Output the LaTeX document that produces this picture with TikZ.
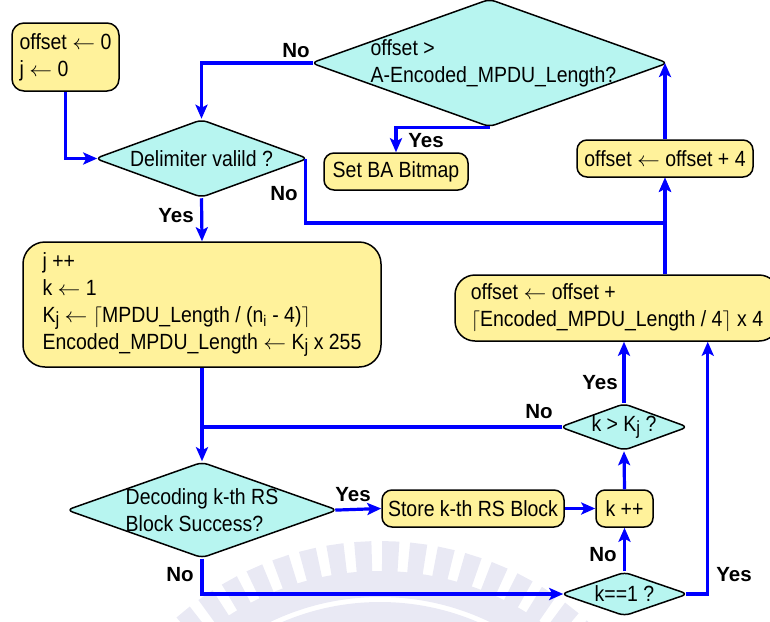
\documentclass[tikz,border=0pt]{standalone}
\usepackage{fontspec}
\setmainfont[FakeStretch=0.885]{Liberation Sans}
\newfontfamily\lblfont{Liberation Sans}
\usetikzlibrary{shapes.geometric,arrows.meta,calc}

\definecolor{boxyellow}{RGB}{255,242,155}
\definecolor{diacyan}{RGB}{183,245,240}
\definecolor{flowblue}{RGB}{0,0,255}
\definecolor{wmark}{RGB}{233,233,244}

% assignment arrow and lowered index letter
\newcommand{\la}{\scalebox{1.1}[1]{$\leftarrow$}}
\newcommand{\lj}{\raisebox{-0.15em}{\fontsize{19}{19}\selectfont j}}

\tikzset{
  ybox/.style={draw=black, line width=1.5pt, fill=boxyellow, align=left, inner sep=0pt},
  dia/.style={diamond, draw=black, line width=1.5pt, fill=diacyan, inner sep=0pt, rounded corners=6pt},
  dtext/.style={align=left, inner sep=0pt},
  lbl/.style={font=\lblfont\bfseries\fontsize{20.5}{22}\selectfont, inner sep=0pt},
  flowline/.style={draw=flowblue, line width=3.2pt},
  flow/.style={flowline, -{Stealth[length=14pt,width=12pt,inset=3pt]}},
}

\begin{document}
\begin{tikzpicture}[x=1pt, y=-1pt, every node/.style={font=\fontsize{22}{27}\selectfont}]
\useasboundingbox (0,0) rectangle (770,621);

% faint seal in the background
\coordinate (wc) at (380,850);
\fill[wmark, even odd rule] (wc) circle[radius=279] (wc) circle[radius=253];
\fill[wmark, even odd rule] (wc) circle[radius=248] (wc) circle[radius=205];
\foreach \a [evaluate=\a as \al using \a-1.6, evaluate=\a as \ar using \a+1.6] in {-140,-134.8,...,-40}
  \fill[wmark] ($(wc)+(\al:309)$) -- ($(wc)+(\ar:309)$) -- ($(wc)+(\ar:276)$) -- ($(wc)+(\al:276)$) -- cycle;

% process boxes
\node[ybox, rounded corners=12pt, minimum width=107pt, minimum height=68pt] (start) at (65.5,57) {offset \la{} 0\\j \la{} 0};
\node[ybox, rounded corners=22pt, minimum width=358pt, minimum height=125pt] (upd) at (202,304.5)
  {j ++\\k \la{} 1\\K\lj{} \la{} $\lceil$MPDU\_Length / (n\textsubscript{i} - 4)$\rceil$\\Encoded\_MPDU\_Length \la{} K\lj{} x 255};
\node[ybox, rounded corners=20pt, minimum width=324pt, minimum height=66pt] (adv) at (617,308)
  {offset \la{} offset +\\$\lceil$Encoded\_MPDU\_Length / 4$\rceil$ x 4};
\node[ybox, rounded corners=10pt, minimum width=144pt, minimum height=37pt] (setba) at (396,171.5) {Set BA Bitmap};
\node[ybox, rounded corners=10pt, minimum width=176pt, minimum height=37pt] (off4) at (665,158.5) {offset \la{} offset + 4};
\node[ybox, rounded corners=10pt, minimum width=182pt, minimum height=37pt] (store) at (473,508.5) {Store k-th RS Block};
\node[ybox, rounded corners=9pt, minimum width=57pt, minimum height=37pt] (kpp) at (624.5,508.5) {k ++};

% decisions
\node[dia, minimum width=213pt, minimum height=78pt] (dlm) at (201.5,158.5) {};
\node[dtext] (dlmt) at (dlm) {Delimiter valild ?};
\node[dia, minimum width=357pt, minimum height=128pt] (q1) at (489.5,63) {};
\node[dtext, xshift=4pt] (q1t) at (q1) {offset >\\A-Encoded\_MPDU\_Length?};
\node[dia, minimum width=271pt, minimum height=96pt] (dec) at (202,510) {};
\node[dtext] (dect) at (dec) {Decoding k-th RS\\Block Success?};
\node[dia, minimum width=128pt, minimum height=47pt] (kk) at (624,427) {};
\node[dtext] (kkt) at (kk) {k > K\lj{} ?};
\node[dia, minimum width=127pt, minimum height=44pt] (k1) at (624.5,594) {};
\node[dtext] (k1t) at (k1) {k==1 ?};

% branch labels
\node[lbl] (n1) at (296,51) {No};
\node[lbl] (n2) at (284,194) {No};
\node[lbl] (y1) at (176,216) {Yes};
\node[lbl] (y2) at (426,141) {Yes};
\node[lbl] (y3) at (600,383) {Yes};
\node[lbl] (n3) at (539,412) {No};
\node[lbl] (y4) at (353,495) {Yes};
\node[lbl] (n4) at (180,575) {No};
\node[lbl] (n5) at (603,555) {No};
\node[lbl] (y5) at (734,575) {Yes};

% connectors
\draw[flow, shorten >=-3pt] (start.south) |- (dlm.west);
\draw[flow, shorten <=-3pt] (q1.west) -| (dlm.north);
\draw[flow] (q1.south) -| (setba.north);
\draw[flow] ([xshift=-3pt]dlm.east) -- ++(0,64.5) -| (off4.south);
\draw[flow] (adv.north -| off4.south) -- (off4.south);
\draw[flow] (off4.north) -- (off4.north |- q1.east);
\draw[flow] (dlm.south) -- (upd.north);
\draw[flow] (upd.south) -- (dec.north);
\draw[flowline, shorten <=-3pt] (kk.west) -- (kk.west -| upd.south);
\draw[flow] (kk.north) -- (kk.north |- adv.south);
\draw[flow, shorten <=-3pt] (dec.east) -- (store.west);
\draw[flow] (store.east) -- (kpp.west);
\draw[flow] (kpp.north) -- (kk.south);
\draw[flow, shorten >=-3pt] (dec.south) |- (k1.west);
\draw[flow] (k1.north) -- (kpp.south);
\draw[flow, shorten <=-3pt] (k1.east) -- ++(19,0) coordinate (kr) -- (kr |- adv.south);
\end{tikzpicture}
\end{document}
